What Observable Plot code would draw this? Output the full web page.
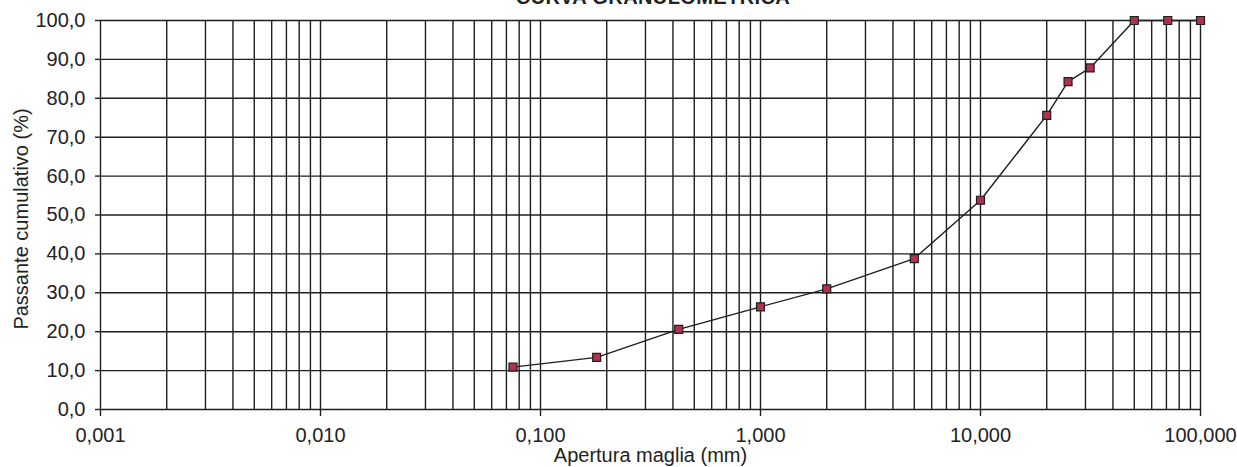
<!DOCTYPE html>
<html>
<head>
<meta charset="utf-8">
<script src="https://cdn.jsdelivr.net/npm/d3@7"></script>
<script src="https://cdn.jsdelivr.net/npm/@observablehq/plot@0.6"></script>
<style>
  html, body { margin: 0; padding: 0; background: #fff; overflow: hidden; }
  #wrap { position: relative; width: 1237px; height: 467px; font-family: "Liberation Sans", Arial, sans-serif; }
  #title { position: absolute; top: -13.5px; left: 0; width: 1306px; text-align: center; font-weight: bold; font-size: 20px; line-height: 20px; letter-spacing: 0.4px; color: #222; }
  #chart { position: absolute; top: 0; left: 0; }
</style>
</head>
<body>
<div id="wrap">
  <div id="chart"></div>
  <div id="title">CURVA GRANULOMETRICA</div>
</div>
<script>
const sieveSizes = [0.075, 0.18, 0.425, 1, 2, 5, 10, 20, 25, 31.5, 50, 71, 100];
const passing = [10.9, 13.4, 20.6, 26.4, 31.0, 38.8, 53.8, 75.6, 84.3, 87.8, 100, 100, 100];
const xTicks = [0.001, 0.01, 0.1, 1, 10, 100];
const yTicks = [0, 10, 20, 30, 40, 50, 60, 70, 80, 90, 100];
const xTitle = "Apertura maglia (mm)";
const yTitle = "Passante cumulativo (%)";

const data = sieveSizes.map((s, i) => ({size: s, pass: passing[i]}));
const minorGrid = [];
xTicks.slice(0, -1).forEach(d => { for (let k = 1; k <= 9; k++) minorGrid.push(k * d); });
minorGrid.push(xTicks[xTicks.length - 1]);

const fmtX = d => d3.format(".3f")(d).replace(".", ",");
const fmtY = d => d3.format(".1f")(d).replace(".", ",");
const ink = "#1e1e1e";

const chart = Plot.plot({
  width: 1237,
  height: 467,
  marginLeft: 100,
  marginRight: 37,
  marginTop: 20,
  marginBottom: 58,
  style: { fontFamily: "'Liberation Sans', Arial, sans-serif", fontSize: "20px", color: "#222", background: "white" },
  x: { type: "log", domain: [0.001, 100], ticks: xTicks, tickFormat: fmtX, label: null },
  y: { domain: [0, 100], ticks: yTicks, tickFormat: fmtY, label: null },
  marks: [
    Plot.ruleX(minorGrid, { stroke: ink, strokeWidth: 1.4 }),
    Plot.ruleY(yTicks, { stroke: ink, strokeWidth: 1.4 }),
    Plot.axisX({ ticks: xTicks, tickFormat: fmtX, tickSize: 7, tickPadding: 11.5, stroke: ink, strokeWidth: 1.4, fontSize: 20, label: null }),
    Plot.axisY({ ticks: yTicks, tickFormat: fmtY, tickSize: 5, tickPadding: 10, stroke: ink, strokeWidth: 1.4, fontSize: 20, label: null }),
    Plot.text([xTitle], { frameAnchor: "bottom", dy: 52, fontSize: 20, fill: "#222" }),
    Plot.text([yTitle], { frameAnchor: "left", textAnchor: "middle", dx: -79, dy: 4, rotate: -90, fontSize: 20, fill: "#222" }),
    Plot.line(data, { x: "size", y: "pass", stroke: ink, strokeWidth: 1.4 }),
    Plot.dot(data, { x: "size", y: "pass", symbol: "square", r: 4.5, fill: "#b0304e", stroke: ink, strokeWidth: 1.2 })
  ]
});
document.getElementById("chart").appendChild(chart);
</script>
</body>
</html>
